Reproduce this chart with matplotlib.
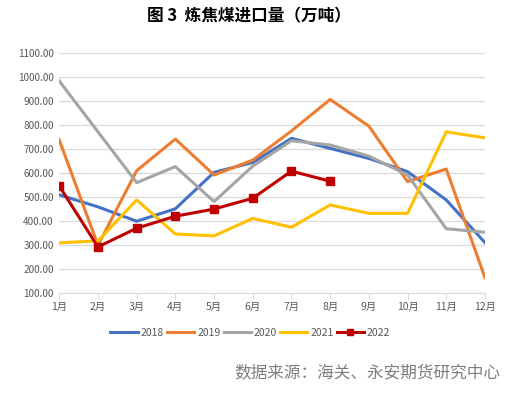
import matplotlib
matplotlib.use('Agg')
import matplotlib.pyplot as plt

plt.rcParams['font.family'] = ['Noto Sans CJK SC', 'DejaVu Sans']

months = ['1月', '2月', '3月', '4月', '5月', '6月', '7月', '8月', '9月', '10月', '11月', '12月']
y2018 = [510, 460, 400, 452, 604, 645, 746, 704, 662, 607, 489, 311]
y2019 = [739, 300, 611, 743, 593, 655, 777, 908, 797, 565, 618, 165]
y2020 = [985, 773, 561, 628, 482, 630, 736, 718, 672, 593, 369, 354]
y2021 = [310, 318, 489, 347, 339, 412, 375, 468, 433, 433, 773, 748]
y2022 = [547, 293, 371, 421, 451, 496, 609, 567]

series = [
    ('2018', y2018, '#4472C4'),
    ('2019', y2019, '#ED7D31'),
    ('2020', y2020, '#A5A5A5'),
    ('2021', y2021, '#FFC000'),
]

fig = plt.figure(figsize=(5.11, 3.93), dpi=100)
ax = fig.add_axes([0.116, 0.254, 0.833, 0.610])

x = list(range(len(months)))
for name, vals, c in series:
    ax.plot(x[:len(vals)], vals, color=c, lw=2.2, label=name)
ax.plot(x[:len(y2022)], y2022, color='#C00000', lw=2.2, marker='s', ms=5.5, label='2022')

ax.set_xlim(0, 11)
ax.set_ylim(100, 1100)
ax.set_yticks(range(100, 1101, 100))
ax.set_yticklabels(['%.2f' % v for v in range(100, 1101, 100)])
ax.set_xticks(x)
ax.set_xticklabels(months)
ax.grid(axis='y', color='#D9D9D9', lw=0.9)
ax.set_axisbelow(True)
for s in ['top', 'right', 'left']:
    ax.spines[s].set_visible(False)
ax.spines['bottom'].set_color('#D9D9D9')
ax.tick_params(axis='y', length=0, labelsize=7.2, labelcolor='#595959', pad=4)
ax.tick_params(axis='x', length=4, color='#D9D9D9', labelsize=7.5, labelcolor='#595959', pad=2)

fig.text(0.487, 0.958, '图 3  炼焦煤进口量（万吨）', ha='center', va='center',
         fontsize=12, fontweight='bold')
fig.legend(loc='center', bbox_to_anchor=(0.49, 0.153), ncol=5, frameon=False,
           fontsize=7.5, handlelength=2.6, handletextpad=0.3, columnspacing=0.3,
           labelcolor='#595959', markerscale=0.8)
fig.text(0.98, 0.051, '数据来源：海关、永安期货研究中心', ha='right', va='center',
         fontsize=12, color='#7F7F7F')

fig.savefig('out.png', dpi=100)
